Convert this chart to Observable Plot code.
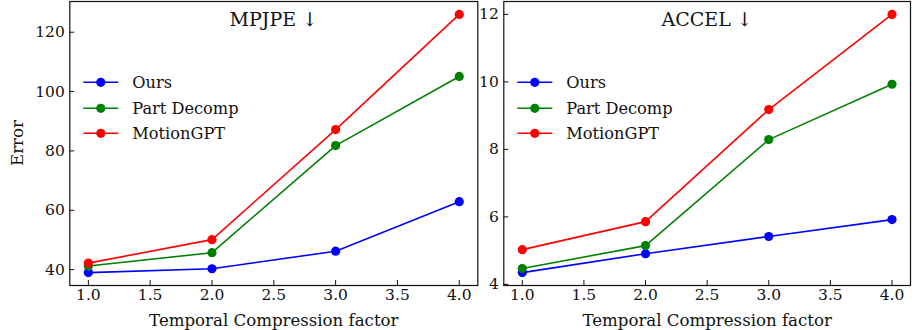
<!DOCTYPE html>
<html><head><meta charset="utf-8">
<script src="https://cdn.jsdelivr.net/npm/d3@7"></script>
<script src="https://cdn.jsdelivr.net/npm/@observablehq/plot@0.6"></script>
<style>
body{margin:0;background:#fff;}
#wrap{position:relative;width:919px;height:330px;font-family:"DejaVu Serif",serif;}
.panel{position:absolute;top:0;}
</style></head><body><div id="wrap"></div>
<script>
const factors = [1.0, 2.0, 3.0, 4.0];
const seriesNames = ["Ours", "Part Decomp", "MotionGPT"];
const seriesColors = ["#0000ff", "#008000", "#ff0000"];
const mpjpeOurs = [39.0, 40.3, 46.2, 62.9];
const mpjpePartDecomp = [41.2, 45.7, 81.8, 105.1];
const mpjpeMotionGPT = [42.2, 50.1, 87.2, 126.0];
const accelOurs = [4.35, 4.91, 5.42, 5.92];
const accelPartDecomp = [4.47, 5.15, 8.29, 9.93];
const accelMotionGPT = [5.03, 5.86, 9.18, 12.0];
const xTicks = [1.0, 1.5, 2.0, 2.5, 3.0, 3.5, 4.0];
const mpjpeTicks = [40, 60, 80, 100, 120];
const accelTicks = [4, 6, 8, 10, 12];
const xLabel = "Temporal Compression factor";
const yLabel = "Error";

function padDomain(vals) {
  const lo = d3.min(vals), hi = d3.max(vals), m = (hi - lo) * 0.05;
  return [lo - m, hi + m];
}

function panel({title, series, yTicks, left, width, mL, mR, ylab, legendX}) {
  const all = series.flat();
  const marks = [];
  series.forEach((vals, i) => {
    const rows = factors.map((f, j) => ({factor: f, value: vals[j], series: seriesNames[i]}));
    marks.push(Plot.line(rows, {x: "factor", y: "value", stroke: seriesColors[i], strokeWidth: 1.6}));
    marks.push(Plot.dot(rows, {x: "factor", y: "value", fill: seriesColors[i], r: 4.6}));
  });
  const fontT = {fontFamily: "DejaVu Serif", fontSize: 15.5};
  const plot = Plot.plot({
    width, height: 330,
    marginLeft: mL, marginRight: mR, marginTop: 1, marginBottom: 45,
    style: {fontFamily: "DejaVu Serif", background: "white", color: "#111"},
    x: {domain: padDomain(factors), label: null},
    y: {domain: padDomain(all), label: null},
    marks: [
      Plot.axisX(xTicks, {tickSize: -5, text: null, strokeWidth: 1}),
      Plot.axisX(xTicks, {tickSize: 0, tickPadding: 3, tickFormat: d3.format(".1f"), ...fontT, fill: "#111"}),
      Plot.axisY(yTicks, {tickSize: -5, text: null, strokeWidth: 1}),
      Plot.axisY(yTicks, {tickSize: 0, tickPadding: 5, ...fontT, fill: "#111"}),
      ...marks,
      Plot.frame({stroke: "#111", strokeWidth: 1.2}),
      Plot.text([title], {frameAnchor: "top", lineAnchor: "middle", dy: 18, fontSize: 19, fontFamily: "DejaVu Serif", fill: "#111", text: d => d}),
      Plot.text([xLabel], {frameAnchor: "bottom", lineAnchor: "middle", dy: 35, fontSize: 16.6, fontFamily: "DejaVu Serif", fill: "#111", text: d => d})
    ]
  });
  // legend drawn inside the axes
  const svg = d3.select(plot);
  const g = svg.append("g").attr("text-anchor", "start");
  const rowsY = [82.3, 108.3, 133.3];
  seriesNames.forEach((name, i) => {
    const y = rowsY[i];
    g.append("line").attr("x1", legendX).attr("x2", legendX + 35).attr("y1", y).attr("y2", y)
      .attr("stroke", seriesColors[i]).attr("stroke-width", 1.6);
    g.append("circle").attr("cx", legendX + 17.5).attr("cy", y).attr("r", 4.6).attr("fill", seriesColors[i]);
    g.append("text").attr("x", legendX + 49).attr("y", y).attr("dy", "0.35em").attr("text-anchor", "start")
      .attr("font-size", 16.2).attr("font-family", "DejaVu Serif").attr("fill", "#111").text(name);
  });
  if (ylab) {
    svg.append("text").attr("transform", `translate(17,${(1 + 285) / 2}) rotate(-90)`)
      .attr("text-anchor", "middle").attr("dy", "0.35em").attr("font-size", 16.6)
      .attr("font-family", "DejaVu Serif").attr("fill", "#111").text(ylab);
  }
  const div = document.createElement("div");
  div.className = "panel";
  div.style.left = left + "px";
  div.appendChild(plot);
  document.getElementById("wrap").appendChild(div);
}

panel({title: "MPJPE ↓", series: [mpjpeOurs, mpjpePartDecomp, mpjpeMotionGPT], yTicks: mpjpeTicks,
  left: 0, width: 480, mL: 69.3, mR: 2.7, ylab: yLabel, legendX: 83.3});
panel({title: "ACCEL ↓", series: [accelOurs, accelPartDecomp, accelMotionGPT], yTicks: accelTicks,
  left: 480, width: 439, mL: 23.3, mR: 9, ylab: null, legendX: 37.3});
</script></body></html>
